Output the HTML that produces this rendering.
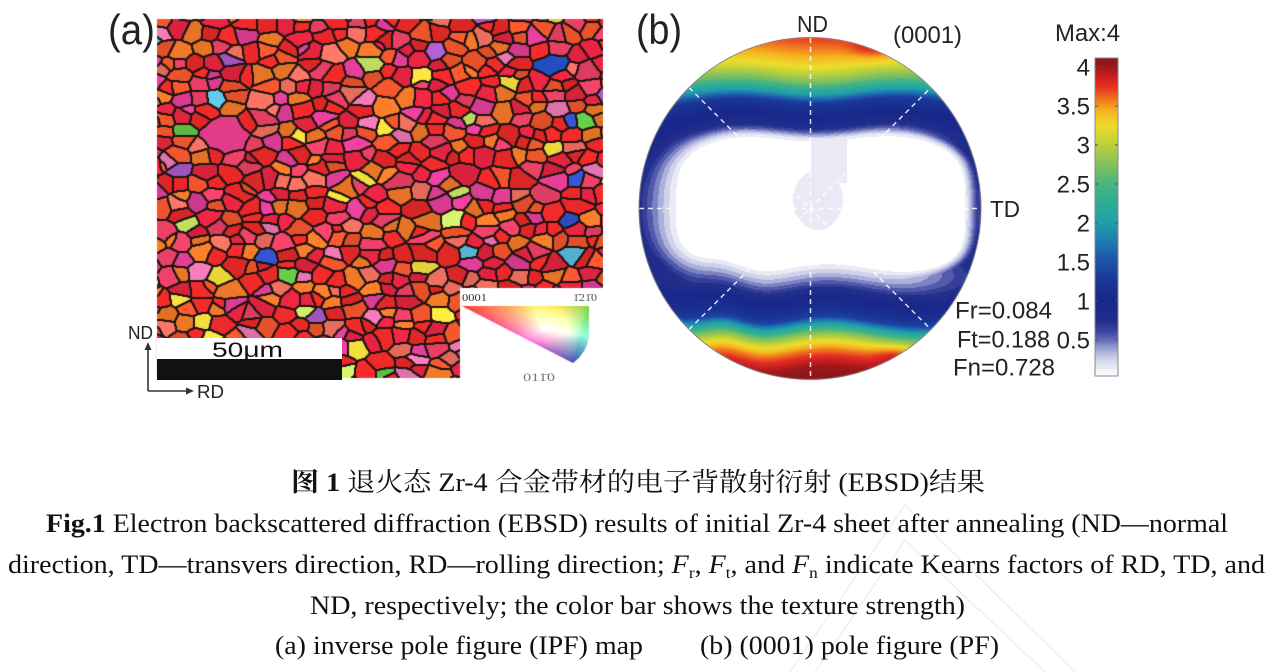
<!DOCTYPE html>
<html><head><meta charset="utf-8">
<style>
html,body{margin:0;padding:0;background:#fff;}
#wrap{position:relative;width:1273px;height:672px;overflow:hidden;background:#fff;}
#wrap svg,#wrap canvas{position:absolute;left:0;top:0;}
</style></head><body><div id="wrap">
<svg id="bg" width="1273" height="672">
<defs>
<linearGradient id="pg" x1="0" y1="0" x2="0" y2="1">
<stop offset="0" stop-color="#e03028"/><stop offset="0.05" stop-color="#f08020"/><stop offset="0.1" stop-color="#e8dc30"/><stop offset="0.15" stop-color="#80c060"/><stop offset="0.19" stop-color="#20a0a8"/><stop offset="0.23" stop-color="#1e3490"/><stop offset="0.29" stop-color="#2a3a98"/><stop offset="0.33" stop-color="#9aa0d0"/><stop offset="0.37" stop-color="#fff"/><stop offset="0.64" stop-color="#fff"/><stop offset="0.68" stop-color="#b0b4dc"/><stop offset="0.72" stop-color="#3040a0"/><stop offset="0.78" stop-color="#1e3490"/><stop offset="0.83" stop-color="#20a0a8"/><stop offset="0.86" stop-color="#90c860"/><stop offset="0.89" stop-color="#f0d030"/><stop offset="0.93" stop-color="#f08020"/><stop offset="0.96" stop-color="#d02020"/><stop offset="1" stop-color="#901818"/>
</linearGradient>
<linearGradient id="cbg" x1="0" y1="0" x2="0" y2="1">
<stop offset="0" stop-color="#8c1618"/><stop offset="0.1" stop-color="#e43022"/><stop offset="0.17" stop-color="#f4a024"/><stop offset="0.25" stop-color="#e8dc30"/><stop offset="0.37" stop-color="#80c060"/><stop offset="0.5" stop-color="#20a0a8"/><stop offset="0.62" stop-color="#1e52a8"/><stop offset="0.75" stop-color="#182890"/><stop offset="0.88" stop-color="#646cb8"/><stop offset="1" stop-color="#fff"/>
</linearGradient>
</defs>
<rect x="157" y="19" width="446" height="359" fill="#d9443e"/>
<rect x="460" y="288" width="143" height="91" fill="#fff"/>
<circle cx="810" cy="208.5" r="171" fill="url(#pg)"/>
<rect x="1095" y="58" width="23" height="318" fill="url(#cbg)"/>
</svg>
<canvas id="cv" width="1273" height="672"></canvas>
<svg id="fg" width="1273" height="672" font-family="'Liberation Sans', Arial, sans-serif">
<!-- panel a labels -->
<text x="108" y="44" font-size="42" textLength="47" lengthAdjust="spacingAndGlyphs" fill="#222">(a)</text>
<rect x="157" y="338" width="185" height="21" fill="#fff"/>
<rect x="157" y="359" width="185" height="21" fill="#111"/>
<text x="212" y="357" font-size="21" textLength="71" lengthAdjust="spacingAndGlyphs" fill="#111">50μm</text>
<g stroke="#333" stroke-width="1.6" fill="none">
<line x1="148" y1="391" x2="148" y2="348"/>
<line x1="148" y1="391" x2="188" y2="391"/>
</g>
<polygon points="148,342 144.5,350 151.5,350" fill="#333"/>
<polygon points="194,391 186,387.5 186,394.5" fill="#333"/>
<text x="128" y="339" font-size="18" textLength="25" lengthAdjust="spacingAndGlyphs" fill="#222">ND</text>
<text x="197" y="398" font-size="18" textLength="27" lengthAdjust="spacingAndGlyphs" fill="#222">RD</text>
<g font-family="'Liberation Serif', serif">
<text x="462" y="301" font-size="11" textLength="25" lengthAdjust="spacingAndGlyphs" fill="#333">0001</text>
<text x="573" y="301" font-size="11" textLength="24" lengthAdjust="spacingAndGlyphs" fill="#555">1̄21̄0</text>
<text x="523" y="381" font-size="12" textLength="32" lengthAdjust="spacingAndGlyphs" fill="#777">011̄0</text>
</g>
<!-- panel b -->
<text x="636" y="44" font-size="42" textLength="46" lengthAdjust="spacingAndGlyphs" fill="#222">(b)</text>
<g stroke="#ffffff" stroke-opacity="0.85" stroke-width="1.5" stroke-dasharray="5 4" fill="none">
<line x1="810.5" y1="38" x2="810.5" y2="379"/>
<line x1="639" y1="208.5" x2="981" y2="208.5"/>
<line x1="689" y1="87.5" x2="931" y2="329.5"/>
<line x1="689" y1="329.5" x2="931" y2="87.5"/>
</g>
<circle cx="810" cy="208.5" r="171" fill="none" stroke="#777" stroke-width="0.8"/>
<text x="797" y="32" font-size="23" textLength="31" lengthAdjust="spacingAndGlyphs" fill="#222">ND</text>
<text x="893" y="43" font-size="24" textLength="69" lengthAdjust="spacingAndGlyphs" fill="#222">(0001)</text>
<text x="990" y="217" font-size="23" textLength="30" lengthAdjust="spacingAndGlyphs" fill="#222">TD</text>
<text x="1055" y="41" font-size="24" textLength="65" lengthAdjust="spacingAndGlyphs" fill="#222">Max:4</text>
<rect x="1095" y="58" width="23" height="318" fill="none" stroke="#888" stroke-width="1"/>
<g stroke="#555" stroke-width="1">
<line x1="1095" y1="67" x2="1098" y2="67"/><line x1="1115" y1="67" x2="1118" y2="67"/>
<line x1="1095" y1="106" x2="1098" y2="106"/><line x1="1115" y1="106" x2="1118" y2="106"/>
<line x1="1095" y1="145" x2="1098" y2="145"/><line x1="1115" y1="145" x2="1118" y2="145"/>
<line x1="1095" y1="184" x2="1098" y2="184"/><line x1="1115" y1="184" x2="1118" y2="184"/>
<line x1="1095" y1="223" x2="1098" y2="223"/><line x1="1115" y1="223" x2="1118" y2="223"/>
<line x1="1095" y1="262" x2="1098" y2="262"/><line x1="1115" y1="262" x2="1118" y2="262"/>
<line x1="1095" y1="301" x2="1098" y2="301"/><line x1="1115" y1="301" x2="1118" y2="301"/>
<line x1="1095" y1="340" x2="1098" y2="340"/><line x1="1115" y1="340" x2="1118" y2="340"/>
</g>
<g font-size="24" fill="#222" text-anchor="end">
<text x="1090" y="75.5">4</text>
<text x="1090" y="114.5">3.5</text>
<text x="1090" y="153.5">3</text>
<text x="1090" y="192.5">2.5</text>
<text x="1090" y="231.5">2</text>
<text x="1090" y="270.5">1.5</text>
<text x="1090" y="309.5">1</text>
<text x="1090" y="348.5">0.5</text>
</g>
<g font-size="24" fill="#222">
<text x="955" y="318.5" textLength="97" lengthAdjust="spacingAndGlyphs">Fr=0.084</text>
<text x="957" y="347.5" textLength="93" lengthAdjust="spacingAndGlyphs">Ft=0.188</text>
<text x="953" y="375.5" textLength="102" lengthAdjust="spacingAndGlyphs">Fn=0.728</text>
</g>
<!-- watermark -->
<g stroke="#e2f8e2" stroke-width="1.5" fill="none">
<polyline points="790,672 905,505 1075,672"/>
<polyline points="815,672 905,540 1045,672"/>
</g>
<!-- caption -->
<g font-family="'Liberation Serif', 'Noto Serif CJK SC', serif" fill="#111" style="white-space:pre">
<text x="291" y="491" font-size="26" textLength="694" lengthAdjust="spacingAndGlyphs"><tspan font-weight="bold">图 1</tspan>  退火态 Zr-4 合金带材的电子背散射衍射 (EBSD)结果</text>
<text x="46" y="532" font-size="26" textLength="1182" lengthAdjust="spacingAndGlyphs"><tspan font-weight="bold">Fig.1</tspan> Electron backscattered diffraction (EBSD) results of initial Zr-4 sheet after annealing (ND—normal</text>
<text x="8" y="573" font-size="26" textLength="1257" lengthAdjust="spacingAndGlyphs">direction, TD—transvers direction, RD—rolling direction; <tspan font-style="italic">F</tspan><tspan font-size="16" dy="5">r</tspan><tspan dy="-5">, </tspan><tspan font-style="italic">F</tspan><tspan font-size="16" dy="5">t</tspan><tspan dy="-5">, and </tspan><tspan font-style="italic">F</tspan><tspan font-size="16" dy="5">n</tspan><tspan dy="-5"> indicate Kearns factors of RD, TD, and</tspan></text>
<text x="310" y="614" font-size="26" textLength="655" lengthAdjust="spacingAndGlyphs">ND, respectively; the color bar shows the texture strength)</text>
<text x="275" y="654" font-size="26" textLength="368" lengthAdjust="spacingAndGlyphs">(a) inverse pole figure (IPF) map</text>
<text x="700" y="654" font-size="26" textLength="299" lengthAdjust="spacingAndGlyphs">(b) (0001) pole figure (PF)</text>
</g>
</svg>
</div>
<script>
(function(){
var cv=document.getElementById('cv');if(!cv.getContext)return;var ctx=cv.getContext('2d');
function rng(a){return function(){a|=0;a=a+0x6D2B79F5|0;var t=Math.imul(a^a>>>15,1|a);t=t+Math.imul(t^t>>>7,61|t)^t;return((t^t>>>14)>>>0)/4294967296;};}
var R=rng(20240611);
/* ---------- EBSD map ---------- */
var X0=157,Y0=19,W=446,H=359,cw=17,ch=12,sy=1.3,OFF=3;
var nx=Math.ceil(W/cw)+7,ny=Math.ceil(H/ch)+7;
var pal=[[232,40,40,25],[228,36,64,15],[238,84,44,12],[240,120,40,12],[240,112,96,7],[232,64,100,8],[226,62,150,8],[238,120,180,3],[244,222,60,3],[200,230,100,1.2],[170,90,200,1.5],[50,80,200,0.8],[100,200,70,0.6],[90,190,220,0.5]];
var tw=0;for(var q=0;q<pal.length;q++)tw+=pal[q][3];
function pick(){var r=R()*tw;for(var i=0;i<pal.length;i++){r-=pal[i][3];if(r<=0)return pal[i];}return pal[0];}
var big=[{x:226-X0,y:136-Y0,rx:28,ry:14,w:14,c:[226,60,136]},{x:555-X0,y:65-Y0,rx:15,ry:7,w:7,c:[32,80,192]}];
var cells=[];for(q=0;q<nx*ny;q++)cells.push([]);
var seeds=[];
function addSeed(s){var i=Math.floor(s.x/cw)+OFF,j=Math.floor(s.y/ch)+OFF;s.id=seeds.length;seeds.push(s);if(i>=0&&i<nx&&j>=0&&j<ny)cells[j*nx+i].push(s);}
for(var j=0;j<ny;j++){for(var i=0;i<nx;i++){
 var x=(i-OFF+0.1+0.8*R())*cw,y=(j-OFF+0.1+0.8*R())*ch;
 var p=pick(),k=0.92+0.16*R(),w=R()*4,skip=R()<0.14;
 for(var b=0;b<big.length;b++){var B=big[b],ex=(x-B.x)/B.rx,ey=(y-B.y)/B.ry;if(ex*ex+ey*ey<1.4)skip=true;}
 if(!skip)addSeed({x:x,y:y,w:w,c:[Math.min(255,p[0]*k),Math.min(255,p[1]*k),Math.min(255,p[2]*k)]});
}}
for(b=0;b<big.length;b++)addSeed({x:big[b].x,y:big[b].y,w:big[b].w,c:big[b].c});
var lab=new Int32Array(W*H);
for(var py=0;py<H;py++){for(var px=0;px<W;px++){
 var X=px+0.5,Y=py+0.5,ci=Math.floor(X/cw)+OFF,cj=Math.floor(Y/ch)+OFF;
 var b1=1e9,s1=null;
 for(var jj=cj-3;jj<=cj+3;jj++){if(jj<0||jj>=ny)continue;
  for(var ii=ci-3;ii<=ci+3;ii++){if(ii<0||ii>=nx)continue;var L=cells[jj*nx+ii];
   for(var m=0;m<L.length;m++){var s=L[m],dx=X-s.x,dy=(Y-s.y)*sy,dd=Math.sqrt(dx*dx+dy*dy)-s.w;
    if(dd<b1){b1=dd;s1=s;}}}}
 lab[py*W+px]=s1?s1.id:0;
}}
var img=ctx.createImageData(W,H),d=img.data;
for(py=0;py<H;py++){for(px=0;px<W;px++){
 var o=py*W+px,id=lab[o],a=0;
 if((px>0&&lab[o-1]!=id)||(px<W-1&&lab[o+1]!=id)||(py>0&&lab[o-W]!=id)||(py<H-1&&lab[o+W]!=id))a=1;
 else if((px>0&&py>0&&lab[o-W-1]!=id)||(px<W-1&&py>0&&lab[o-W+1]!=id)||(px>0&&py<H-1&&lab[o+W-1]!=id)||(px<W-1&&py<H-1&&lab[o+W+1]!=id))a=0.5;
 var c=seeds[id].c,o4=o*4;
 d[o4]=c[0]*(1-a)+30*a;d[o4+1]=c[1]*(1-a)+20*a;d[o4+2]=c[2]*(1-a)+20*a;d[o4+3]=255;
}}
ctx.putImageData(img,X0,Y0);
ctx.fillStyle='#fff';ctx.fillRect(460,288,143,92);
/* ---------- IPF triangle ---------- */
var ax=462,ay=306,bx=589,by=306,cx=573,cy=363;
var T=document.createElement('canvas');T.width=140;T.height=70;var tc=T.getContext('2d');var ti=tc.createImageData(140,70),td=ti.data;
var v0x=bx-ax,v0y=by-ay,v1x=cx-ax,v1y=cy-ay,den=v0x*v1y-v1x*v0y;
for(py=0;py<70;py++)for(px=0;px<140;px++){
 var XX=455+px+0.5,YY=300+py+0.5,v2x=XX-ax,v2y=YY-ay;
 var bb=(v2x*v1y-v1x*v2y)/den,cc=(v0x*v2y-v2x*v0y)/den,aa=1-bb-cc;
 aa=Math.max(0,aa)*1.3;bb=Math.max(0,bb);cc=Math.max(0,cc);
 var mx=Math.max(aa,bb,cc,1e-6),wr=Math.pow(aa/mx,0.6),wg=Math.pow(bb/mx,0.6),wb=Math.pow(cc/mx,0.6);
 var oo=(py*140+px)*4;
 td[oo]=Math.min(255,235*wr+110*wg+40*wb);td[oo+1]=Math.min(255,40*wr+200*wg+60*wb);td[oo+2]=Math.min(255,40*wr+50*wg+170*wb);td[oo+3]=255;
}
tc.putImageData(ti,0,0);
ctx.save();ctx.beginPath();ctx.moveTo(462,306);ctx.lineTo(589,306);ctx.lineTo(589,336);ctx.quadraticCurveTo(587,353,573,363);ctx.closePath();ctx.clip();ctx.drawImage(T,455,300);ctx.restore();
/* ---------- pole figure ---------- */
var CM=[[0,255,255,255],[0.1,244,244,250],[0.2,222,224,240],[0.3,194,197,228],[0.4,150,156,208],[0.5,100,108,184],[0.6,62,72,160],[0.75,34,46,140],[1.0,24,40,138],[1.25,26,54,152],[1.5,30,82,168],[1.75,30,122,178],[2.0,32,160,170],[2.25,46,172,150],[2.5,74,180,128],[2.75,130,194,94],[3.0,186,208,60],[3.25,238,220,44],[3.45,246,176,30],[3.6,240,112,30],[3.75,228,48,34],[3.9,196,28,32],[4.05,140,22,24],[5,130,20,22]];
function cmap(v){if(v<=0)return[255,255,255];for(var i=1;i<CM.length;i++){if(v<=CM[i][0]){var A=CM[i-1],B=CM[i],t=(v-A[0])/(B[0]-A[0]);return[A[1]+(B[1]-A[1])*t,A[2]+(B[2]-A[2])*t,A[3]+(B[3]-A[3])*t];}}return[130,20,22];}
function interp(P,x){if(x<=P[0][0])return P[0][1];for(var i=1;i<P.length;i++){if(x<=P[i][0]){var A=P[i-1],B=P[i];return A[1]+(B[1]-A[1])*(x-A[0])/(B[0]-A[0]);}}return P[P.length-1][1];}
var PT=[[0,0],[0.38,0],[0.42,0.15],[0.44,0.35],[0.47,0.65],[0.5,0.9],[0.57,1.05],[0.63,1.3],[0.68,2.0],[0.75,2.7],[0.83,3.2],[0.92,3.5],[0.98,3.65],[1.0,3.7],[2,3.7]];
var PB=[[0,0],[0.33,0],[0.37,0.15],[0.42,0.35],[0.47,0.6],[0.53,0.95],[0.6,1.1],[0.66,1.35],[0.7,2.0],[0.75,2.7],[0.8,3.2],[0.85,3.55],[0.9,3.8],[0.95,4.0],[1.0,4.05],[2,4.05]];
var U0=0.075,AW=0.815;
function PIv(u,v){
 var top=v<0;
 var a=Math.abs(v)-0.03*u*u+0.015*Math.sin(7*u+1.3);
 if(!top)a+=0.02*Math.sin(5*u+0.5)+0.07*Math.exp(-Math.pow((u+0.5)/0.18,2));
 var a0=top?0.40:0.35;
 var nv=Math.max(0,a)/a0,nu=Math.abs(u-U0)/AW;
 var p4=Math.pow(nv,4),q4=Math.pow(nu,4),D=Math.pow(p4+q4,0.25),w=p4/(p4+q4+1e-9);
 var P=interp(top?PT:PB,a0*D);
 var g=u<U0?0.3:0.11;
 var rimv=Math.min(1.0,(u<U0?0.7:0.66)+3*v*v);
 var Sd=rimv*Math.pow(Math.min(1,Math.max(0,(D-1)/g)),1.15);
 var I=w*P+(1-w)*Sd;
 I+=0.3*Math.exp(-((u-0.38)*(u-0.38)/0.02+(v+0.94)*(v+0.94)/0.004));
 I+=0.3*Math.exp(-((u-0.5)*(u-0.5)/0.015+(v-0.86)*(v-0.86)/0.004));
 var e1=Math.pow((u-0.047)/0.146,2)+Math.pow((v+0.05)/0.175,2);
 if((e1<1||(u>0.006&&u<0.216&&v<-0.15&&v>-0.44))&&I<0.15)I=0.15;
 if(I<0.9)I=I<0.1?0:Math.floor(I*10)/10+0.05;
 return I;
}
var PCX=810,PCY=208.5,PR=171,S2=2*PR+6,ox=Math.floor(PCX-PR-3),oy=Math.floor(PCY-PR-3);
var pimg=ctx.createImageData(S2,S2),pd=pimg.data;
for(py=0;py<S2;py++)for(px=0;px<S2;px++){
 var Xp=ox+px+0.5,Yp=oy+py+0.5,ddx=Xp-PCX,ddy=Yp-PCY,dist=Math.sqrt(ddx*ddx+ddy*ddy);
 var al=Math.max(0,Math.min(1,PR+0.5-dist)),o2=(py*S2+px)*4;
 if(al<=0){pd[o2+3]=0;continue;}
 var col=cmap(PIv(ddx/PR,ddy/PR));pd[o2]=col[0];pd[o2+1]=col[1];pd[o2+2]=col[2];pd[o2+3]=Math.round(al*255);
}
ctx.putImageData(pimg,ox,oy);
/* ---------- color bar ---------- */
for(var yy=58;yy<376;yy++){var vv=4-(yy+0.5-67)/78,cc2=cmap(vv);ctx.fillStyle='rgb('+Math.round(cc2[0])+','+Math.round(cc2[1])+','+Math.round(cc2[2])+')';ctx.fillRect(1095,yy,23,1);}
document.getElementById('bg').style.display='none';
})();
</script>
</body></html>
